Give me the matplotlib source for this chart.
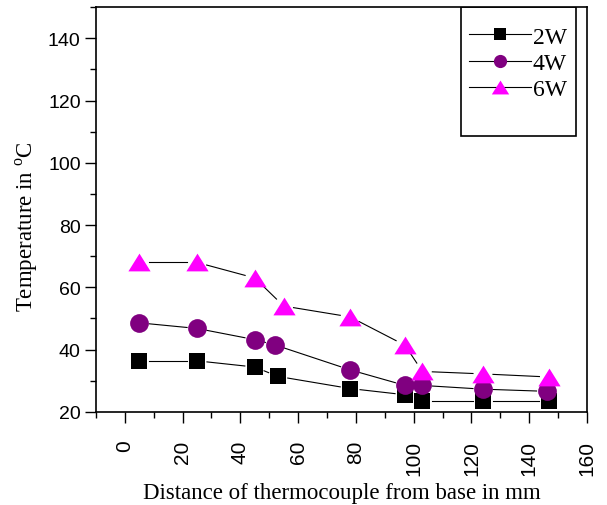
import matplotlib
matplotlib.use("Agg")
import matplotlib.pyplot as plt
from matplotlib.patches import Rectangle
from matplotlib.ticker import MultipleLocator
import numpy as np

plt.rcParams['mathtext.fontset'] = 'custom'
plt.rcParams['mathtext.rm'] = 'Liberation Serif'

x_2w = [5, 25, 45, 53, 78, 97, 103, 124, 147]
t_2w = [36.4, 36.4, 34.4, 31.4, 27.5, 25.5, 23.4, 23.4, 23.4]
x_4w = [5, 25, 45, 52, 78, 97, 103, 124, 146]
t_4w = [48.6, 46.8, 43.2, 41.5, 33.5, 28.5, 28.5, 27.3, 26.6]
x_6w = [5, 25, 45, 55, 78, 97, 103, 124, 147]
t_6w = [68.0, 68.0, 63.0, 54.0, 50.5, 41.4, 33.0, 32.2, 31.2]

labels = ["2W", "4W", "6W"]
serif = "Liberation Serif"
sans = "Liberation Sans"

# wide flat triangle like the Origin one
tri = [(-1, -0.8), (1, -0.8), (0, 0.8), (-1, -0.8)]


def gap_line(ax, xs, ys, gap=10):
    # thin connecting lines that stop short of the markers
    pts = ax.transData.transform(np.column_stack([xs, ys]))
    inv = ax.transData.inverted()
    for p0, p1 in zip(pts[:-1], pts[1:]):
        d = p1 - p0
        n = np.hypot(d[0], d[1])
        if n <= 2 * gap:
            continue
        u = d / n
        a = inv.transform(p0 + u * gap)
        b = inv.transform(p1 - u * gap)
        ax.plot([a[0], b[0]], [a[1], b[1]], color='black', lw=0.8, zorder=2)


fig = plt.figure(figsize=(6.07, 5.06), dpi=100)
ax = fig.add_axes([0.158, 0.184, 0.809, 0.800])
ax.set_xlim(-10, 160)
ax.set_ylim(20, 150)

series = [
    (x_2w, t_2w, 's', 'black', 12, 8.5),
    (x_4w, t_4w, 'o', 'purple', 13.5, 9.5),
    (x_6w, t_6w, tri, '#ff00ff', 16, 12.5),
]
fig.canvas.draw()
for s in series:
    gap_line(ax, s[0], s[1])
for (xs, ys, m, c, ms, lms), lab in zip(series, labels):
    ax.plot(xs, ys, linestyle='none', marker=m, color=c, ms=ms, mew=0, zorder=3)
    ax.plot([], [], color='black', lw=0.8, marker=m, mfc=c, mec=c, mew=0, ms=lms, label=lab)

ax.xaxis.set_major_locator(MultipleLocator(20))
ax.xaxis.set_minor_locator(MultipleLocator(10))
ax.yaxis.set_minor_locator(MultipleLocator(10))
ax.set_yticks([20, 40, 60, 80, 100, 120, 140])
ax.tick_params(which='major', direction='out', length=8, width=1, labelsize=14)
ax.tick_params(which='minor', direction='out', length=4, width=1)
ax.tick_params(axis='x', which='major', pad=12, labelsize=15)
ax.tick_params(axis='y', which='major', pad=3)
for t in ax.get_xticklabels():
    t.set_rotation(90)
    t.set_fontfamily(sans)
for t in ax.get_yticklabels():
    t.set_fontfamily(sans)
for s in ax.spines.values():
    s.set_linewidth(1.2)

ax.set_xlabel("Distance of thermocouple from base in mm", fontfamily=serif, fontsize=16.5, labelpad=5)
ax.set_ylabel(r"Temperature in $^{\mathrm{o}}$C", fontfamily=serif, fontsize=16.5, labelpad=6)
ax.yaxis.label.set_y(0.46)

ax.add_patch(Rectangle((0.743, 0.681), 0.235, 0.319, transform=ax.transAxes,
                       fill=False, edgecolor='black', lw=1.2, zorder=5))
leg = ax.legend(loc='upper left', bbox_to_anchor=(0.760, 0.953), frameon=False,
                borderpad=0, borderaxespad=0,
                prop={'family': serif, 'size': 17}, handlelength=2.6,
                handletextpad=0.1, labelspacing=0.2)

fig.savefig("out.png", dpi=100)
